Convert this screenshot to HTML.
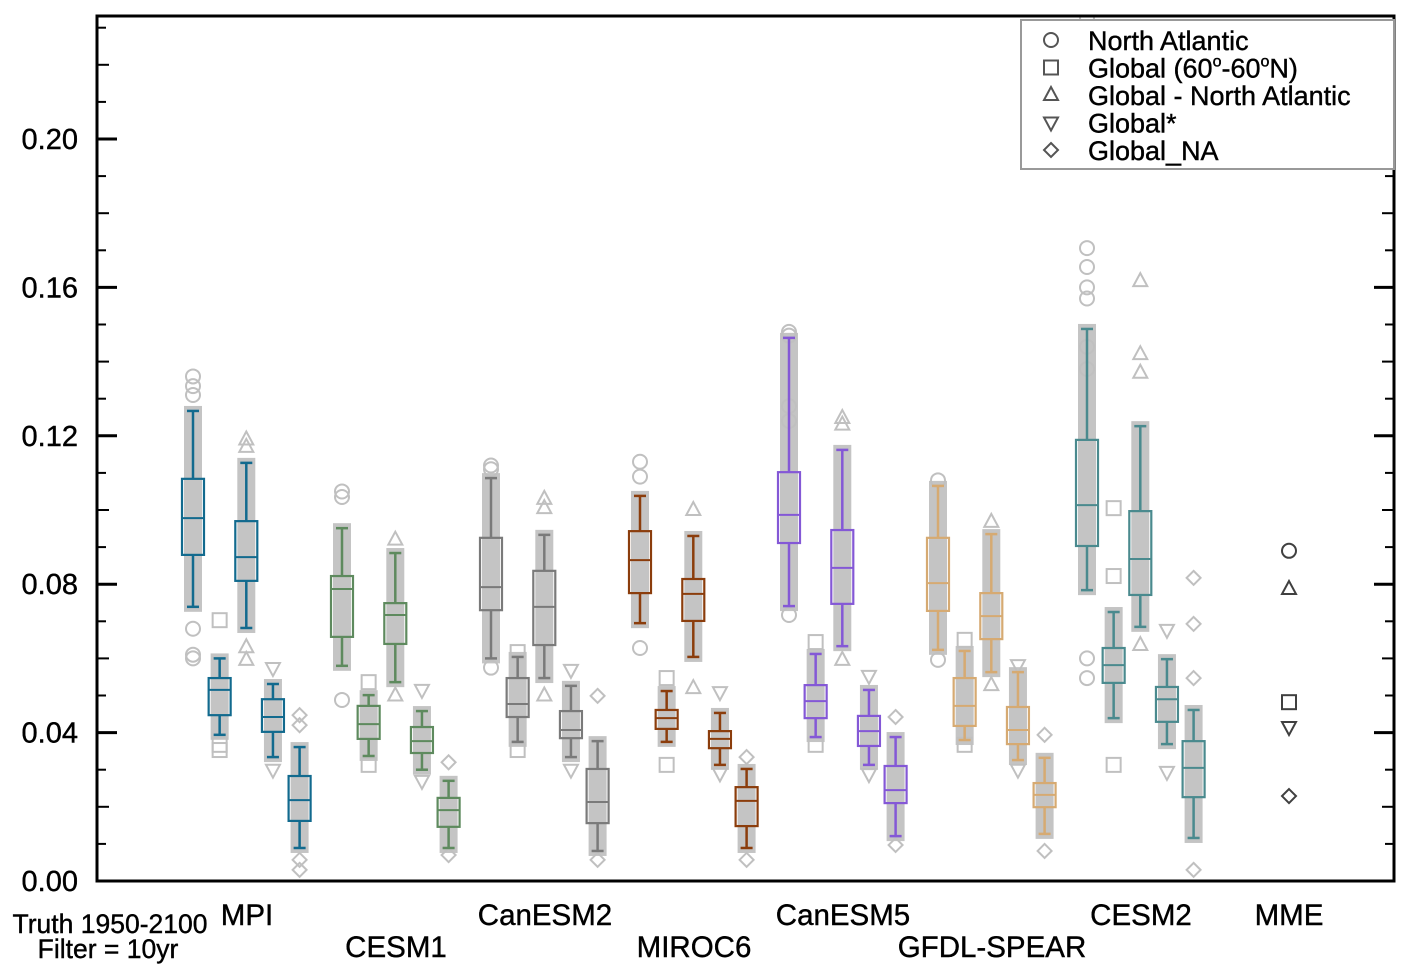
<!DOCTYPE html>
<html><head><meta charset="utf-8"><style>
html,body{margin:0;padding:0;background:#fff;width:1406px;height:974px;overflow:hidden}
svg{display:block;font-family:"Liberation Sans",sans-serif}
</style></head><body>
<svg id="chart" width="1406" height="974"></svg>
<script>
const models = ["MPI","CESM1","CanESM2","MIROC6","CanESM5","GFDL-SPEAR","CESM2"];
const modelColors = ["#126a8e","#5e8a5e","#7a7a7a","#8b3d0c","#8458d6","#d6aa72","#4a8a8e"];
const regions = ["North Atlantic","Global (60°-60°N)","Global - North Atlantic","Global*","Global_NA"];
const markerTypes = ["circle","square","triangle","invtriangle","diamond"];
// [whiskerLow, q1, median, q3, whiskerHigh] per model, per region
const boxStats = [
 [[.0739,.0879,.0978,.1084,.1267],[.0394,.0447,.0515,.0547,.060],[.0682,.0809,.0873,.097,.1127],[.0334,.0402,.0442,.049,.0531],[.0089,.0162,.0218,.0283,.0361]],
 [[.058,.0658,.0787,.0822,.0951],[.0337,.0383,.0423,.0472,.0501],[.0536,.0639,.0717,.0749,.0884],[.030,.0345,.0377,.0415,.0458],[.0089,.0146,.0191,.0224,.027]],
 [[.060,.073,.0792,.0925,.1086],[.0375,.0442,.0477,.0547,.0604],[.0547,.0636,.0739,.0836,.0933],[.0334,.0385,.0407,.0458,.0526],[.0081,.0156,.0213,.0302,.0377]],
 [[.0695,.0776,.0865,.0943,.1038],[.0375,.041,.0439,.0461,.0512],[.0604,.0701,.0774,.0814,.093],[.0313,.0358,.0383,.0404,.0453],[.0089,.0148,.0216,.0253,.0302]],
 [[.0741,.0911,.0987,.1102,.1464],[.0388,.0439,.0485,.0528,.0612],[.0633,.0747,.0844,.0946,.1162],[.0313,.0364,.0404,.0445,.0515],[.0121,.021,.0245,.031,.0388]],
 [[.0623,.0728,.0803,.0925,.1065],[.038,.0418,.0472,.0547,.062],[.0563,.0652,.0714,.0776,.0935],[.0326,.0369,.0407,.0469,.0563],[.0127,.0199,.0232,.0264,.0332]],
 [[.0784,.0903,.1013,.1189,.1488],[.0439,.0534,.0582,.0628,.0725],[.0685,.0771,.0868,.0997,.1226],[.0369,.0429,.049,.0523,.0598],[.0116,.0226,.0305,.0377,.0461]]
];
// outlier points (ensemble members outside whiskers)
const outliers = [
 [[.136,.1334,.131,.068,.061,.060],[.0703,.0367,.0353],[.119,.117,.063,.0596],[.0574,.030],[.0447,.042,.0057,.003]],
 [[.105,.1035,.0488],[.0536,.0313],[.092,.050],[.0515,.027],[.032,.007]],
 [[.112,.111,.0575],[.0617,.0353],[.103,.1005,.050],[.0569,.030],[.0499,.0057]],
 [[.113,.109,.0628],[.0547,.0313],[.100,.052],[.0509,.029],[.0334,.0057]],
 [[.148,.147,.128,.124,.0717],[.0644,.0367],[.1248,.123,.0596],[.0553,.0288],[.0442,.0097]],
 [[.108,.0596],[.065,.0367],[.0968,.0528],[.0582,.030],[.0394,.0081]],
 [[.2326,.1706,.1655,.16,.157,.144,.138,.060,.0547],[.1005,.0822,.0313],[.1617,.142,.137,.0636],[.0677,.0294],[.0817,.0693,.0547,.003]]
];
const mmeValues = [.089,.0482,.0787,.0415,.0229];
const yTicks = [0,0.04,0.08,0.12,0.16,0.20];
const yTickLabels = ["0.00","0.04","0.08","0.12","0.16","0.20"];

const X0=97,X1=1394,Y0=881,YT=16;
const yScale=v=>Y0-v*3710;
const xBox=(m,r)=>193+m*149+r*26.65;
const NS="http://www.w3.org/2000/svg";
const svg=document.getElementById("chart");
function el(tag,attrs,parent){const e=document.createElementNS(NS,tag);for(const k in attrs)e.setAttribute(k,attrs[k]);(parent||svg).appendChild(e);return e;}
function marker(type,x,y,color,g){
  const s=7;let e;
  if(type==="circle")e=el("circle",{cx:x,cy:y,r:s,fill:"none",stroke:color,"stroke-width":2},g);
  else if(type==="square")e=el("rect",{x:x-s,y:y-s,width:2*s,height:2*s,fill:"none",stroke:color,"stroke-width":2},g);
  else if(type==="triangle")e=el("polygon",{points:`${x},${y-s-1} ${x-s},${y+s-2} ${x+s},${y+s-2}`,fill:"none",stroke:color,"stroke-width":2},g);
  else if(type==="invtriangle")e=el("polygon",{points:`${x},${y+s+1} ${x-s},${y-s+2} ${x+s},${y-s+2}`,fill:"none",stroke:color,"stroke-width":2},g);
  else e=el("polygon",{points:`${x},${y-s} ${x+s},${y} ${x},${y+s} ${x-s},${y}`,fill:"none",stroke:color,"stroke-width":2},g);
  return e;
}
const clip=el("clipPath",{id:"pc"});el("rect",{x:X0,y:YT,width:X1-X0,height:Y0-YT},clip);
const plot=el("g",{"clip-path":"url(#pc)"});



models.forEach((m,mi)=>{
  regions.forEach((r,ri)=>{
    const st=boxStats[mi][ri],x=xBox(mi,ri),c=modelColors[mi];
    const g=el("g",{},plot);
    
    
    el("rect",{x:x-9,y:yScale(st[4])-5,width:18,height:yScale(st[0])-yScale(st[4])+10,fill:"#c4c4c4"},g);
    outliers[mi][ri].forEach(v=>{const p=marker(markerTypes[ri],x,yScale(v),"#c0c0c0",g);
      
      });
    const sw={stroke:c,"stroke-width":2.5};
    el("line",Object.assign({x1:x,x2:x,y1:yScale(st[4]),y2:yScale(st[3])},sw),g);
    el("line",Object.assign({x1:x,x2:x,y1:yScale(st[1]),y2:yScale(st[0])},sw),g);
    el("line",Object.assign({x1:x-6,x2:x+6,y1:yScale(st[4]),y2:yScale(st[4])},sw),g);
    el("line",Object.assign({x1:x-6,x2:x+6,y1:yScale(st[0]),y2:yScale(st[0])},sw),g);
    el("rect",{x:x-11,y:yScale(st[3]),width:22,height:yScale(st[1])-yScale(st[3]),fill:"none",stroke:c,"stroke-width":2.2},g);
    el("line",{x1:x-11,x2:x+11,y1:yScale(st[2]),y2:yScale(st[2]),stroke:c,"stroke-width":2},g);
  });
});
mmeValues.forEach((v,i)=>{const p=marker(markerTypes[i],1289,yScale(v),"#404040",plot);
  
  });

const frame=el("rect",{x:X0,y:YT,width:X1-X0,height:Y0-YT,fill:"none",stroke:"#000","stroke-width":3});


for(let i=0;i<=23;i++){
  const v=i*0.01,y=yScale(v);if(y<YT)continue;
  const L=(i%4===0)?20:(i%2===0?12:9);
  el("line",{x1:X0,x2:X0+L,y1:y,y2:y,stroke:"#000","stroke-width":(i%4===0)?3:2});
  el("line",{x1:X1-L,x2:X1,y1:y,y2:y,stroke:"#000","stroke-width":(i%4===0)?3:2});
}
const txt={stroke:"#000","stroke-width":0.4};
yTicks.forEach((v,i)=>{const t=el("text",Object.assign({x:78,y:yScale(v)+10,"text-anchor":"end","font-size":"29"},txt));t.textContent=yTickLabels[i];
  
  });

const labelRow=[0,1,0,1,0,1,0];
models.forEach((m,i)=>{const t=el("text",Object.assign({x:247+i*149,y:labelRow[i]?957:925,"text-anchor":"middle","font-size":"29.5"},txt));t.textContent=m;
  
  });
const mt=el("text",Object.assign({x:1289,y:925,"text-anchor":"middle","font-size":"29.5"},txt));mt.textContent="MME";


const n1=el("text",Object.assign({x:110,y:933,"text-anchor":"middle","font-size":"26.5"},txt));n1.textContent="Truth 1950-2100";


const n2=el("text",Object.assign({x:108,y:958,"text-anchor":"middle","font-size":"26.5"},txt));n2.textContent="Filter = 10yr";



const lg=el("g",{});


el("rect",{x:1021,y:20,width:373,height:149,fill:"#fff",stroke:"#999","stroke-width":2},lg);
regions.forEach((r,i)=>{const y=40+i*27.5;
  const e=el("g",{},lg);
  
  
  marker(markerTypes[i],1051,y,"#555",e);
  const t=el("text",Object.assign({x:1088,y:y+10,"font-size":"27"},txt),e);
  if(i===1){t.innerHTML='Global (60<tspan font-size="16" dy="-11">o</tspan><tspan dy="11">-60</tspan><tspan font-size="16" dy="-11">o</tspan><tspan dy="11">N)</tspan>';}
  else t.textContent=r;
});
</script>
</body></html>
